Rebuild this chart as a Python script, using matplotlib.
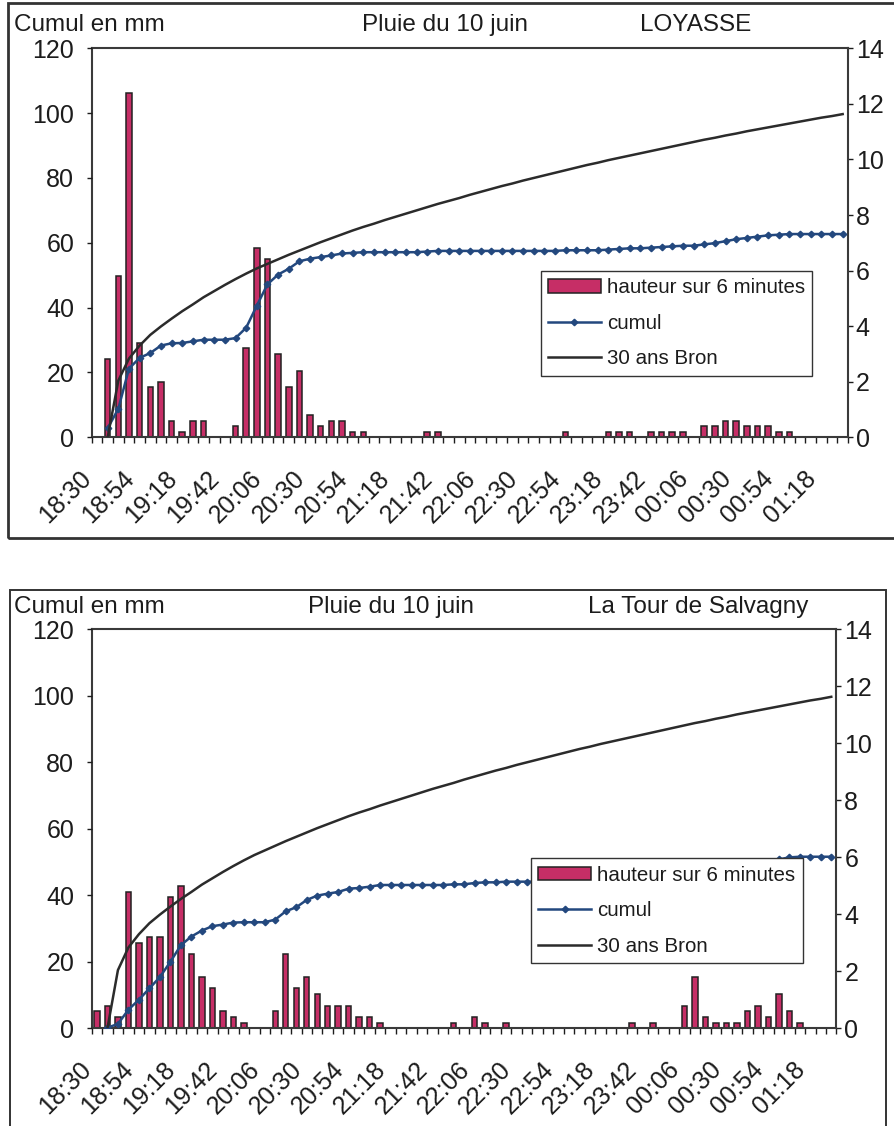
import numpy as np
import matplotlib
matplotlib.use("Agg")
import matplotlib.pyplot as plt
from matplotlib.patches import Patch, Rectangle
from matplotlib.ticker import FixedLocator
from matplotlib.transforms import ScaledTranslation

plt.rcParams['font.family'] = ['Liberation Sans', 'DejaVu Sans']

# ---------------- data ----------------
times = ["18:30", "18:36", "18:42", "18:48", "18:54", "19:00", "19:06", "19:12", "19:18", "19:24",
         "19:30", "19:36", "19:42", "19:48", "19:54", "20:00", "20:06", "20:12", "20:18", "20:24",
         "20:30", "20:36", "20:42", "20:48", "20:54", "21:00", "21:06", "21:12", "21:18", "21:24",
         "21:30", "21:36", "21:42", "21:48", "21:54", "22:00", "22:06", "22:12", "22:18", "22:24",
         "22:30", "22:36", "22:42", "22:48", "22:54", "23:00", "23:06", "23:12", "23:18", "23:24",
         "23:30", "23:36", "23:42", "23:48", "23:54", "00:00", "00:06", "00:12", "00:18", "00:24",
         "00:30", "00:36", "00:42", "00:48", "00:54", "01:00", "01:06", "01:12", "01:18", "01:24",
         "01:30"]

tick_labels = ["18:30", "18:54", "19:18", "19:42", "20:06", "20:30", "20:54", "21:18", "21:42",
               "22:06", "22:30", "22:54", "23:18", "23:42", "00:06", "00:30", "00:54", "01:18"]

nan = np.nan

# LOYASSE : hauteur sur 6 minutes (mm, right axis)
loyasse_hauteur = [0, 2.8, 5.8, 12.4, 3.4, 1.8, 2.0, 0.6, 0.2, 0.6,
                   0.6, 0, 0, 0.4, 3.2, 6.8, 6.4, 3.0, 1.8, 2.4,
                   0.8, 0.4, 0.6, 0.6, 0.2, 0.2, 0, 0, 0, 0,
                   0, 0.2, 0.2, 0, 0, 0, 0, 0, 0, 0,
                   0, 0, 0, 0, 0.2, 0, 0, 0, 0.2, 0.2,
                   0.2, 0, 0.2, 0.2, 0.2, 0.2, 0, 0.4, 0.4, 0.6,
                   0.6, 0.4, 0.4, 0.4, 0.2, 0.2, 0, 0, 0, 0,
                   0]
# LOYASSE : cumul (mm, left axis)
loyasse_cumul = [nan, 2.8, 8.8, 21.2, 24.5, 26.0, 28.3, 29.0, 29.1, 29.6,
                 30.1, 30.1, 30.1, 30.6, 33.8, 40.6, 47.2, 50.2, 52.0, 54.3,
                 55.1, 55.6, 56.1, 56.7, 56.9, 57.1, 57.1, 57.1, 57.1, 57.1,
                 57.1, 57.3, 57.5, 57.5, 57.5, 57.5, 57.5, 57.5, 57.5, 57.5,
                 57.5, 57.5, 57.5, 57.5, 57.7, 57.7, 57.7, 57.7, 57.9, 58.1,
                 58.3, 58.3, 58.5, 58.7, 58.9, 59.1, 59.1, 59.5, 59.9, 60.5,
                 61.1, 61.5, 61.9, 62.3, 62.5, 62.7, 62.7, 62.7, 62.7, 62.7,
                 62.7]

# La Tour de Salvagny
salvagny_hauteur = [0.6, 0.8, 0.4, 4.8, 3.0, 3.2, 3.2, 4.6, 5.0, 2.6,
                    1.8, 1.4, 0.6, 0.4, 0.2, 0, 0, 0.6, 2.6, 1.4,
                    1.8, 1.2, 0.8, 0.8, 0.8, 0.4, 0.4, 0.2, 0, 0,
                    0, 0, 0, 0, 0.2, 0, 0.4, 0.2, 0, 0.2,
                    0, 0, 0, 0, 0, 0, 0, 0, 0, 0,
                    0, 0.2, 0, 0.2, 0, 0, 0.8, 1.8, 0.4, 0.2,
                    0.2, 0.2, 0.6, 0.8, 0.4, 1.2, 0.6, 0.2, 0, 0,
                    0]
salvagny_cumul = [nan, 0.2, 1.3, 5.6, 8.6, 12.0, 15.4, 20.0, 25.0, 27.6,
                  29.4, 30.7, 31.2, 31.8, 31.9, 31.9, 31.9, 32.7, 35.2, 36.4,
                  38.6, 39.9, 40.5, 41.0, 42.0, 42.2, 42.6, 43.1, 43.1, 43.1,
                  43.1, 43.1, 43.1, 43.1, 43.3, 43.3, 43.7, 43.9, 43.9, 44.1,
                  44.1, 44.1, 44.1, 44.1, 44.1, 44.1, 44.1, 44.1, 44.1, 44.1,
                  44.1, 44.3, 44.3, 44.5, 44.5, 44.5, 45.0, 46.8, 47.2, 47.4,
                  47.6, 47.8, 48.4, 49.2, 49.6, 50.8, 51.4, 51.6, 51.6, 51.6,
                  51.6]

# 30 ans Bron (reference cumulative curve, mm)
bron_30ans = [nan, 0.0, 17.5, 24.3, 28.3, 31.6, 34.2, 36.6, 38.9, 41.0,
              43.2, 45.1, 47.0, 48.8, 50.5, 52.1, 53.5, 54.9, 56.3, 57.6,
              58.9, 60.2, 61.4, 62.6, 63.8, 64.9, 65.9, 67.0, 68.0, 69.0,
              70.0, 71.0, 72.0, 72.9, 73.8, 74.8, 75.7, 76.6, 77.5, 78.3,
              79.2, 80.0, 80.8, 81.6, 82.4, 83.2, 84.0, 84.7, 85.5, 86.2,
              86.9, 87.6, 88.3, 89.0, 89.7, 90.4, 91.1, 91.8, 92.4, 93.1,
              93.7, 94.4, 95.0, 95.6, 96.2, 96.8, 97.4, 98.0, 98.6, 99.1,
              99.7]

legend_labels = ["hauteur sur 6 minutes", "cumul", "30 ans Bron"]

# ---------------- style ----------------
W, H = 894, 1126
BAR = "#C62E66"
BLUE = "#23487E"
DARK = "#2b2b2b"
TXT = "#1c1c1c"
FS_TICK = 18
FS_X = 18
FS_TITLE = 17.5
FS_LEG = 14.8

fig = plt.figure(figsize=(W / 100, H / 100), dpi=100)
fig.patch.set_facecolor("white")


def fx(px):
    return px / W


def fy(py):
    return 1 - py / H


def panel(left, right, top, bottom, hauteur, cumul, title_y, texts, legend_xy):
    rect = [fx(left), fy(bottom), (right - left) / W, (bottom - top) / H]
    axb = fig.add_axes(rect)
    axl = axb.twinx()
    x = np.arange(len(times))
    h = np.array(hauteur, dtype=float)
    m = h > 0
    axb.bar(x[m], h[m], width=0.52, color=BAR, edgecolor="#222222", linewidth=1.1, zorder=2)
    axb.set_xlim(-0.5, len(times) - 0.5)
    axb.set_ylim(0, 14)
    axl.set_ylim(0, 120)
    l1, = axl.plot(x, cumul, color=BLUE, lw=1.8, marker="D", ms=3.3, zorder=3)
    l2, = axl.plot(x, bron_30ans, color=DARK, lw=1.8, zorder=3)

    axb.yaxis.tick_right()
    axl.yaxis.tick_left()
    axb.set_yticks(range(0, 15, 2))
    axl.set_yticks(range(0, 121, 20))
    axb.tick_params(axis="y", direction="out", length=3.6, width=1, labelsize=FS_TICK, pad=2,
                    colors=TXT)
    axl.tick_params(axis="y", direction="out", length=3.6, width=1, labelsize=FS_TICK, pad=9,
                    colors=TXT)

    axb.set_xticks(x[::4])
    axb.set_xticklabels(tick_labels)
    axb.xaxis.set_minor_locator(FixedLocator(np.arange(-0.5, len(times), 1.0)))
    axb.tick_params(axis="x", which="major", length=0, pad=27, labelsize=FS_X, colors=TXT)
    axb.tick_params(axis="x", which="minor", length=4.2, width=1, direction="out", color=TXT)
    off = ScaledTranslation(-9 / 100, 0, fig.dpi_scale_trans)
    for lbl in axb.get_xticklabels():
        lbl.set_rotation(45)
        lbl.set_ha("right")
        lbl.set_va("center")
        lbl.set_rotation_mode("anchor")
        lbl.set_transform(lbl.get_transform() + off)

    for s in axb.spines.values():
        s.set_color("#3a3a3a")
        s.set_linewidth(1.5)
    for s in axl.spines.values():
        s.set_visible(False)

    handles = [Patch(facecolor=BAR, edgecolor="#222222", linewidth=1.1), l1, l2]
    leg = axl.legend(handles, legend_labels, loc="upper left",
                     bbox_to_anchor=(fx(legend_xy[0]), fy(legend_xy[1])),
                     bbox_transform=fig.transFigure, borderaxespad=0, fontsize=FS_LEG,
                     frameon=True, fancybox=False, edgecolor="#333333", framealpha=1,
                     handlelength=2.55, handletextpad=0.3, labelspacing=0.8,
                     borderpad=0.36, handleheight=0.65)
    leg.get_frame().set_linewidth(1.0)
    for t in leg.get_texts():
        t.set_color(TXT)
    leg.set_zorder(10)

    for (tx, s) in texts:
        fig.text(fx(tx), fy(title_y), s, ha="left", va="center", fontsize=FS_TITLE, color=TXT)


panel(91.7, 848, 48.3, 437.3, loyasse_hauteur, loyasse_cumul, 25,
      [(14, "Cumul en mm"), (362, "Pluie du 10 juin"), (640, "LOYASSE")], (540.7, 271))
panel(91.7, 836.5, 629.3, 1028.3, salvagny_hauteur, salvagny_cumul, 607,
      [(14, "Cumul en mm"), (308, "Pluie du 10 juin"), (588, "La Tour de Salvagny")],
      (531, 858.3))

# panel frames
fig.add_artist(Rectangle((fx(8), fy(538)), (905 - 8) / W, (538 - 3) / H,
                         transform=fig.transFigure, fill=False, lw=2.0, ec="#333333"))
fig.add_artist(Rectangle((fx(10), fy(1135)), (886 - 10) / W, (1135 - 590) / H,
                         transform=fig.transFigure, fill=False, lw=1.4, ec="#333333"))

fig.savefig("out.png", dpi=100)
